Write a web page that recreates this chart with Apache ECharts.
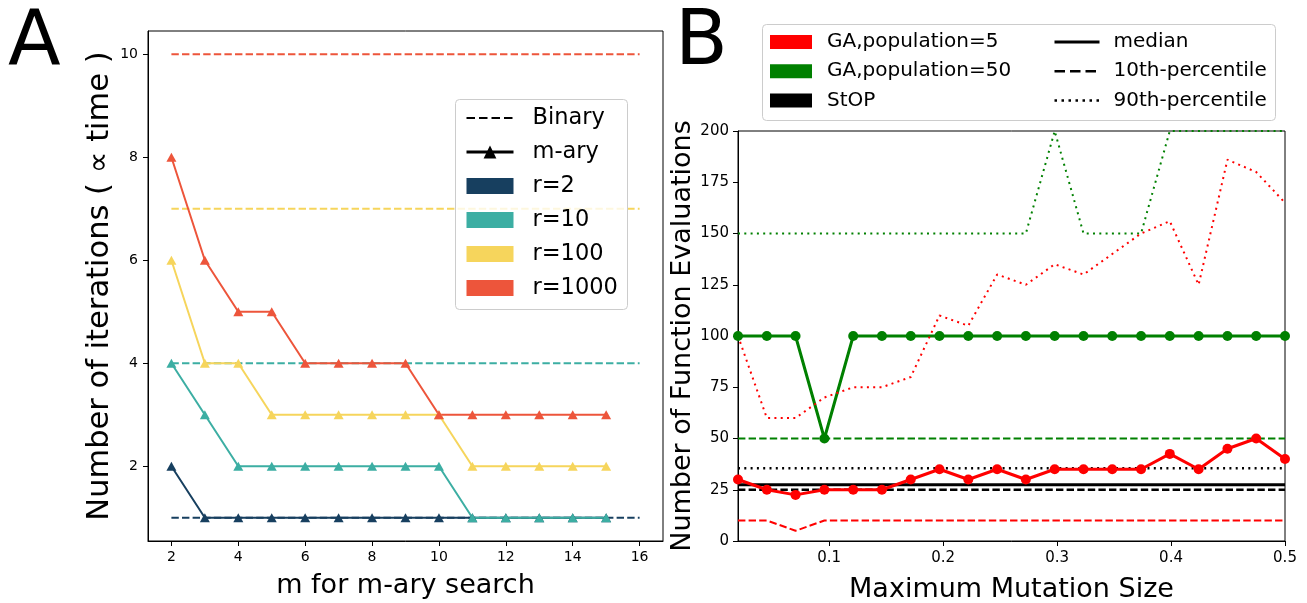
<!DOCTYPE html>
<html><head><meta charset="utf-8">
<script src="https://cdn.jsdelivr.net/npm/echarts@6/dist/echarts.min.js"></script>
<style>html,body{margin:0;padding:0;background:#fff}#c{width:1307px;height:603px}</style>
</head><body><div id="c"></div>
<script>
// ---------- Panel A data ----------
const mValues = [2,3,4,5,6,7,8,9,10,11,12,13,14,15];
const rLabels = ['r=2','r=10','r=100','r=1000'];
const maryR2    = [2,1,1,1,1,1,1,1,1,1,1,1,1,1];
const maryR10   = [4,3,2,2,2,2,2,2,2,1,1,1,1,1];
const maryR100  = [6,4,4,3,3,3,3,3,3,2,2,2,2,2];
const maryR1000 = [8,6,5,5,4,4,4,4,3,3,3,3,3,3];
const binaryRange = [2,16];
const binaryValues = [1,4,7,10];
const ticksAx = [2,4,6,8,10,12,14,16];
const ticksAy = [2,4,6,8,10];

// ---------- Panel B data ----------
const mutationSizes = [0.02,0.0453,0.0705,0.0958,0.1211,0.1463,0.1716,0.1968,0.2221,0.2474,0.2726,0.2979,0.3232,0.3484,0.3737,0.3989,0.4242,0.4495,0.4747,0.5];
const ga5Median  = [30,25,22.5,25,25,25,30,35,30,35,30,35,35,35,35,42.5,35,45,50,40];
const ga5P10     = [10,10,5,10,10,10,10,10,10,10,10,10,10,10,10,10,10,10,10,10];
const ga5P90     = [100,60,60,70,75,75,80,110,105,130,125,135,130,140,150,156,125,186,180,165];
const ga50Median = [100,100,100,50,100,100,100,100,100,100,100,100,100,100,100,100,100,100,100,100];
const ga50P10    = [50,50,50,50,50,50,50,50,50,50,50,50,50,50,50,50,50,50,50,50];
const ga50P90    = [150,150,150,150,150,150,150,150,150,150,150,200,150,150,150,200,200,200,200,200];
const stopRange  = [0.02,0.5];
const stopMedian = 27.5;
const stopP10    = 25;
const stopP90    = 35.5;
const ticksBx = [0.1,0.2,0.3,0.4,0.5];
const ticksBy = [0,25,50,75,100,125,150,175,200];

const FONT = 'DejaVu Sans';
const rColors = ['#173F5F','#3CAEA3','#F6D55C','#ED553B'];
const maryAll = [maryR2, maryR10, maryR100, maryR1000];
const DASH = [7.4,3.2];
const DOT = [2,4.3];

const series = [];
// Panel A
for (let i = 0; i < 4; i++) {
  series.push({
    name: rLabels[i] + ' binary', type:'line', xAxisIndex:0, yAxisIndex:0,
    data: binaryRange.map(x => [x, binaryValues[i]]), symbol:'none',
    lineStyle:{color:rColors[i], width:2, type:DASH}, itemStyle:{color:rColors[i]}, silent:true
  });
  series.push({
    name: rLabels[i] + ' m-ary', type:'line', xAxisIndex:0, yAxisIndex:0,
    data: mValues.map((m,j) => [m, maryAll[i][j]]), symbol:'triangle', symbolSize:[10,9],
    showAllSymbol:true,
    lineStyle:{color:rColors[i], width:2}, itemStyle:{color:rColors[i]}, silent:true
  });
}
// legend dummies A
series.push({name:'Binary', type:'line', xAxisIndex:0, yAxisIndex:0, data:[], symbol:'none',
  lineStyle:{color:'#000', width:2, type:[8.5,4]}, itemStyle:{color:'#000'}});
series.push({name:'m-ary', type:'line', xAxisIndex:0, yAxisIndex:0, data:[], symbol:'triangle',
  lineStyle:{color:'#000', width:3}, itemStyle:{color:'#000'}});
rLabels.forEach((n,i) => series.push({name:n, type:'line', xAxisIndex:0, yAxisIndex:0, data:[],
  symbol:'none', lineStyle:{color:rColors[i]}, itemStyle:{color:rColors[i]}}));

// Panel B
function constLine(name, v, color, width, type) {
  return {name, type:'line', xAxisIndex:1, yAxisIndex:1, data: stopRange.map(x => [x, v]),
    symbol:'none', lineStyle:{color, width, type}, itemStyle:{color}, silent:true};
}
series.push(constLine('StOP med', stopMedian, '#000', 3, 'solid'));
series.push(constLine('StOP p10', stopP10, '#000', 2.5, DASH));
series.push(constLine('StOP p90', stopP90, '#000', 2.5, DOT));
function gaSeries(name, arr, color, kind) {
  const s = {name, type:'line', xAxisIndex:1, yAxisIndex:1,
    data: mutationSizes.map((x,j) => [x, arr[j]]), itemStyle:{color}, silent:true};
  if (kind === 'median') { s.symbol='circle'; s.symbolSize=10; s.showAllSymbol=true; s.lineStyle={color, width:3}; }
  else if (kind === 'p10') { s.symbol='none'; s.lineStyle={color, width:2, type:DASH}; }
  else { s.symbol='none'; s.lineStyle={color, width:2, type:DOT}; }
  return s;
}
series.push(gaSeries('GA50 p10', ga50P10, '#008000', 'p10'));
series.push(gaSeries('GA50 p90', ga50P90, '#008000', 'p90'));
series.push(gaSeries('GA50 med', ga50Median, '#008000', 'median'));
series.push(gaSeries('GA5 p10', ga5P10, '#ff0000', 'p10'));
series.push(gaSeries('GA5 p90', ga5P90, '#ff0000', 'p90'));
series.push(gaSeries('GA5 med', ga5Median, '#ff0000', 'median'));
// legend dummies B
[['GA,population=5','#ff0000'],['GA,population=50','#008000'],['StOP','#000']].forEach(p =>
  series.push({name:p[0], type:'line', xAxisIndex:1, yAxisIndex:1, data:[], symbol:'none',
    lineStyle:{color:p[1]}, itemStyle:{color:p[1]}}));
series.push({name:'median', type:'line', xAxisIndex:1, yAxisIndex:1, data:[], symbol:'none',
  lineStyle:{color:'#000', width:3}, itemStyle:{color:'#000'}});
series.push({name:'10th-percentile', type:'line', xAxisIndex:1, yAxisIndex:1, data:[], symbol:'none',
  lineStyle:{color:'#000', width:2.5, type:[10.5,5]}, itemStyle:{color:'#000'}});
series.push({name:'90th-percentile', type:'line', xAxisIndex:1, yAxisIndex:1, data:[], symbol:'none',
  lineStyle:{color:'#000', width:2.5, type:[2.5,4.5]}, itemStyle:{color:'#000'}});

function axisCommon(fontSize, margin) {
  return {
    axisLine:{show:true, onZero:false, lineStyle:{color:'#000', width:1}},
    axisTick:{show:true, length:5, lineStyle:{color:'#000', width:1}},
    axisLabel:{color:'#000', fontFamily:FONT, fontSize, margin},
    splitLine:{show:false}
  };
}
function mk(base, extra) {
  const o = Object.assign({}, base, extra);
  o.axisTick = Object.assign({}, base.axisTick, extra.axisTick || {});
  o.axisLabel = Object.assign({}, base.axisLabel, extra.axisLabel || {});
  return o;
}
const nameStyle = {color:'#000', fontFamily:FONT, fontSize:27};

const option = {
  animation:false,
  backgroundColor:'#fff',
  textStyle:{fontFamily:FONT},
  title:[
    {text:'A', left:8, top:5, padding:0, textStyle:{fontSize:77, fontWeight:'normal', color:'#000', fontFamily:FONT}},
    {text:'B', left:675, top:5, padding:0, textStyle:{fontSize:77, fontWeight:'normal', color:'#000', fontFamily:FONT}}
  ],
  grid:[
    {left:148, right:644, top:31, bottom:62, show:true, borderColor:'#000', borderWidth:1, outerBoundsMode:'none'},
    {left:738, right:22, top:131, bottom:62, show:true, borderColor:'#000', borderWidth:1, outerBoundsMode:'none'}
  ],
  xAxis:[
    mk(axisCommon(14,9.5), {type:'value', gridIndex:0, min:1.3, max:16.7,
      axisTick:{customValues:ticksAx}, axisLabel:{customValues:ticksAx},
      name:'m for m-ary search', nameLocation:'middle', nameGap:31, nameTextStyle:nameStyle}),
    mk(axisCommon(15,9.5), {type:'value', gridIndex:1, min:0.02, max:0.5,
      axisTick:{customValues:ticksBx}, axisLabel:{customValues:ticksBx},
      name:'Maximum Mutation Size', nameLocation:'middle', nameGap:35, nameTextStyle:nameStyle})
  ],
  yAxis:[
    mk(axisCommon(14,10), {type:'value', gridIndex:0, min:0.55, max:10.45,
      axisTick:{customValues:ticksAy}, axisLabel:{customValues:ticksAy},
      name:'Number of iterations ( \u221d time )', nameLocation:'middle', nameGap:32, nameRotate:90,
      nameTextStyle:Object.assign({}, nameStyle, {fontSize:30.5})}),
    mk(axisCommon(15,9), {type:'value', gridIndex:1, min:0, max:200,
      axisTick:{customValues:ticksBy}, axisLabel:{customValues:ticksBy},
      name:'Number of Function Evaluations', nameLocation:'middle', nameGap:40, nameRotate:90, nameTextStyle:nameStyle})
  ],
  graphic:[
    {type:'rect', z:10, shape:{x:455.5, y:99.5, width:172, height:210, r:4},
      style:{fill:'rgba(255,255,255,0.8)', stroke:'#cccccc', lineWidth:1}},
    {type:'rect', z:10, shape:{x:762.5, y:24.5, width:513, height:96, r:4},
      style:{fill:'rgba(255,255,255,0.8)', stroke:'#cccccc', lineWidth:1}}
  ],
  legend:[
    {orient:'vertical', left:465, top:106, itemWidth:47, itemHeight:16, itemGap:10, padding:0, z:20,
      selectedMode:false,
      textStyle:{fontSize:22.5, lineHeight:24, color:'#000', fontFamily:FONT, padding:[0,0,0,14]},
      data:[
        {name:'Binary', itemStyle:{opacity:0}, lineStyle:{width:2}},
        {name:'m-ary', lineStyle:{width:3}},
        {name:'r=2', icon:'rect', itemStyle:{borderWidth:0}},
        {name:'r=10', icon:'rect', itemStyle:{borderWidth:0}},
        {name:'r=100', icon:'rect', itemStyle:{borderWidth:0}},
        {name:'r=1000', icon:'rect', itemStyle:{borderWidth:0}}
      ]},
    {orient:'vertical', left:770, top:32, itemWidth:42, itemHeight:14, itemGap:9.2, padding:0, z:20,
      selectedMode:false,
      textStyle:{fontSize:20, lineHeight:20, color:'#000', fontFamily:FONT, padding:[0,0,0,10]},
      data:[
        {name:'GA,population=5', icon:'rect', itemStyle:{borderWidth:0}},
        {name:'GA,population=50', icon:'rect', itemStyle:{borderWidth:0}},
        {name:'StOP', icon:'rect', itemStyle:{borderWidth:0}}
      ]},
    {orient:'vertical', left:1053, top:32, itemWidth:45, itemHeight:14, itemGap:9.2, padding:0, z:20,
      selectedMode:false,
      textStyle:{fontSize:20, lineHeight:20, color:'#000', fontFamily:FONT, padding:[0,0,0,9]},
      data:[
        {name:'median', itemStyle:{opacity:0}, lineStyle:{width:3}},
        {name:'10th-percentile', itemStyle:{opacity:0}, lineStyle:{width:2.5}},
        {name:'90th-percentile', itemStyle:{opacity:0}, lineStyle:{width:2.5}}
      ]}
  ],
  series
};
const chart = echarts.init(document.getElementById('c'), null, {renderer:'canvas'});
chart.setOption(option);
</script></body></html>
